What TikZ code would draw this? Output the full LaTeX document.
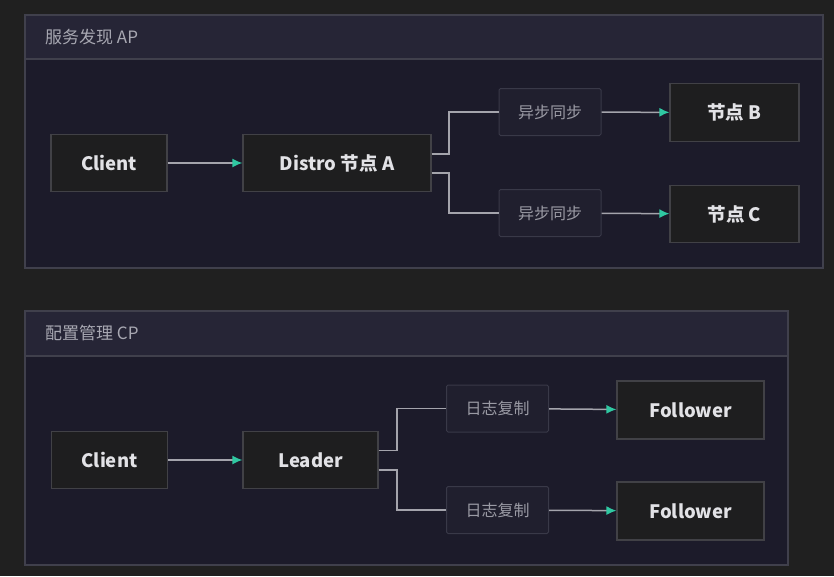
\documentclass[tikz,border=0pt]{standalone}
\usepackage{fontspec}
\setmainfont{Noto Sans CJK SC}
\usetikzlibrary{arrows.meta}
\definecolor{outerbg}{HTML}{202020}
\definecolor{panelbg}{HTML}{1C1B2A}
\definecolor{headbg}{HTML}{262536}
\definecolor{panelline}{HTML}{40404C}
\definecolor{nodefill}{HTML}{1E1E1F}
\definecolor{nodeline}{HTML}{414146}
\definecolor{midfill}{HTML}{201F2E}
\definecolor{midline}{HTML}{393948}
\definecolor{wire}{HTML}{A4A4AC}
\definecolor{tip}{HTML}{2FC8A2}
\definecolor{headtext}{HTML}{A8A8B2}
\definecolor{midtext}{HTML}{9A9AA4}
\definecolor{boldtext}{HTML}{E2E2E6}
\tikzset{
  mainbox/.style={draw=nodeline, line width=1.2pt, fill=nodefill, text=boldtext,
    font=\fontsize{18.5}{20}\selectfont\bfseries, inner sep=0pt},
  midbox/.style={draw=midline, line width=1pt, fill=midfill, text=midtext,
    font=\fontsize{16}{18}\selectfont, inner sep=0pt, rounded corners=1.5pt},
  flow/.style={draw=wire, line width=1.5pt, -{Latex[length=10pt,width=9pt,fill=tip,color=tip]}},
  link/.style={draw=wire, line width=1.5pt},
  headlabel/.style={text=headtext, font=\fontsize{17}{20}\selectfont, anchor=west, inner sep=0pt}
}
\begin{document}
\begin{tikzpicture}[x=1pt,y=-1pt]
\useasboundingbox (0,0) rectangle (834,576);
\fill[outerbg] (0,0) rectangle (834,576);
% panel 1
\fill[panelbg] (25,15) rectangle (823,268);
\fill[headbg] (25,15) rectangle (823,59);
\draw[panelline, line width=1.2pt] (25,59) -- (823,59);
\draw[panelline, line width=1.5pt] (25,15) rectangle (823,268);
\node[headlabel] (h1) at (45,37) {服务发现 AP};
% panel 2
\fill[panelbg] (25,311) rectangle (788,565);
\fill[headbg] (25,311) rectangle (788,356);
\draw[panelline, line width=1.2pt] (25,356) -- (788,356);
\draw[panelline, line width=1.5pt] (25,311) rectangle (788,565);
\node[headlabel] (h2) at (45,333) {配置管理 CP};
% panel 1 nodes
\node[mainbox, minimum width=116pt, minimum height=57pt] (c1) at (109,163) {Client};
\node[mainbox, minimum width=188pt, minimum height=57pt] (da) at (337,163) {Distro 节点 A};
\node[midbox, minimum width=102pt, minimum height=47pt] (s1) at (550,112) {异步同步};
\node[midbox, minimum width=102pt, minimum height=47pt] (s2) at (550,213) {异步同步};
\node[mainbox, minimum width=129pt, minimum height=58pt] (nb) at (734.5,112.5) {节点 B};
\node[mainbox, minimum width=129pt, minimum height=57pt] (nc) at (734.5,214) {节点 C};
\draw[flow] (c1) -- (da);
\coordinate (da1) at ([yshift=9pt]da.east);
\coordinate (da2) at ([yshift=-10pt]da.east);
\coordinate (j1) at (449,154);
\coordinate (j2) at (449,173);
\draw[link] (da1) -- (j1) |- (s1.west);
\draw[link] (da2) -- (j2) |- (s2.west);
\draw[flow] (s1) -- (nb);
\draw[flow] (s2) -- (nc);
% panel 2 nodes
\node[mainbox, minimum width=116pt, minimum height=57pt] (c2) at (109.5,460) {Client};
\node[mainbox, minimum width=135pt, minimum height=57pt] (ld) at (310.5,460) {Leader};
\node[midbox, minimum width=102pt, minimum height=47pt] (r1) at (497.5,408.5) {日志复制};
\node[midbox, minimum width=102pt, minimum height=47pt] (r2) at (497.5,510) {日志复制};
\node[mainbox, minimum width=147pt, minimum height=58pt] (f1) at (690.5,410) {Follower};
\node[mainbox, minimum width=147pt, minimum height=58pt] (f2) at (690.5,511) {Follower};
\draw[flow] (c2) -- (ld);
\coordinate (ld1) at ([yshift=9.5pt]ld.east);
\coordinate (ld2) at ([yshift=-10pt]ld.east);
\coordinate (k1) at (397,450.5);
\coordinate (k2) at (397,470);
\draw[link] (ld1) -- (k1) |- (r1.west);
\draw[link] (ld2) -- (k2) |- (r2.west);
\draw[flow] (r1) -- (f1);
\draw[flow] (r2) -- (f2);
\end{tikzpicture}
\end{document}
